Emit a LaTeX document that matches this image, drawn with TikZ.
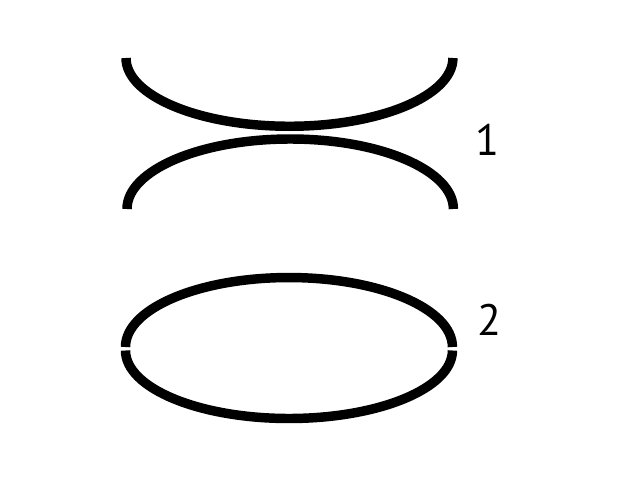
\documentclass[tikz,border=0pt]{standalone}
\usepackage{fontspec}
\setmainfont{PT Sans}
\begin{document}
\begin{tikzpicture}[x=0.75pt,y=0.75pt,
  curve/.style={line width=7.1pt,black,line cap=butt},
  lbl/.style={inner sep=0pt,font=\fontsize{33}{33}\selectfont}]
\useasboundingbox (0,0) rectangle (640,480);
\fill[white] (0,0) rectangle (640,480);
% group 1: lower half (U) above, upper half (arch) below
\draw[curve] (126,422) arc[start angle=180,end angle=360,x radius=122.6pt,y radius=51.2pt];
\draw[curve] (127,271) arc[start angle=180,end angle=0,x radius=122.4pt,y radius=52.5pt];
% group 2: closed ellipse split at the sides
\draw[curve] (125.5,133) arc[start angle=180,end angle=0,x radius=122.6pt,y radius=52.1pt];
\draw[curve] (125.5,129.5) arc[start angle=180,end angle=360,x radius=122.6pt,y radius=51pt];
\node[lbl] (l1) at (487,340) {1};
\node[lbl] (l2) at (489,160) {2};
\end{tikzpicture}
\end{document}
